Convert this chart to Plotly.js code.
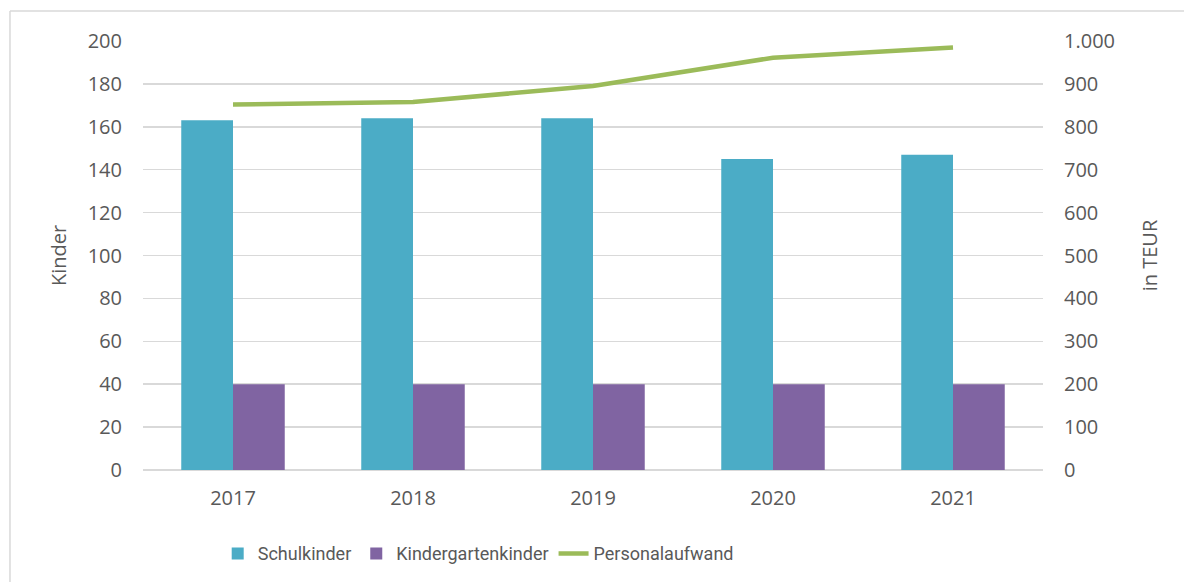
<!DOCTYPE html>
<html>
<head>
<meta charset="utf-8">
<script src="https://cdn.plot.ly/plotly-3.0.1.min.js"></script>
<style>
html,body{margin:0;padding:0;background:#fff;}
#chart{width:1184px;height:582px;}
</style>
</head>
<body>
<div id="chart"></div>
<script>
const years = ['2017', '2018', '2019', '2020', '2021'];
const schulkinder = [163, 164, 164, 145, 147];
const kindergartenkinder = [40, 40, 40, 40, 40];
const personalaufwand = [852, 858, 895, 961, 985];

const textColor = '#595959';
const gridColor = '#D9D9D9';
const tickFont = {family: 'Open Sans, sans-serif', size: 20, color: textColor};

const traces = [
  {type: 'bar', name: 'Schulkinder', x: years, y: schulkinder,
   marker: {color: '#4BACC6'}, hoverinfo: 'y'},
  {type: 'bar', name: 'Kindergartenkinder', x: years, y: kindergartenkinder,
   marker: {color: '#8064A2'}, hoverinfo: 'y'},
  {type: 'scatter', mode: 'lines', name: 'Personalaufwand', x: years, y: personalaufwand,
   yaxis: 'y2', line: {color: '#9BBB59', width: 4.5}}
];

const layout = {
  width: 1184, height: 582,
  margin: {l: 143, r: 141, t: 41, b: 112, autoexpand: false},
  paper_bgcolor: '#fff', plot_bgcolor: '#fff',
  separators: ',.',
  barmode: 'group',
  bargap: 0.425,
  bargroupgap: 0,
  font: {family: 'Open Sans, sans-serif', color: textColor},
  xaxis: {
    type: 'category', tickfont: tickFont, showgrid: false, automargin: false,
    showline: false, zeroline: false, ticks: '', ticklabelstandoff: 14
  },
  yaxis: {
    range: [0, 200], dtick: 20, tickfont: tickFont, automargin: false,
    gridcolor: gridColor, gridwidth: 1.5, zeroline: true, zerolinecolor: gridColor, zerolinewidth: 1.5,
    showline: false, ticks: '', ticklabelstandoff: 20,
    title: {text: 'Kinder', font: {family: 'Open Sans, sans-serif', size: 20, color: textColor}, standoff: 15}
  },
  yaxis2: {
    range: [0, 1000], dtick: 100, tickformat: ',d', overlaying: 'y', side: 'right',
    tickfont: tickFont, showgrid: false, zeroline: false, showline: false, ticks: '',
    ticklabelstandoff: 20, automargin: false,
    title: {text: 'in TEUR', font: {family: 'Open Sans, sans-serif', size: 20, color: textColor}, standoff: 28}
  },
  legend: {
    orientation: 'h', x: 0.083, xanchor: 'left', y: -0.152, yanchor: 'top',
    font: {family: 'Roboto, sans-serif', size: 18, color: textColor},
    itemwidth: 30, traceorder: 'normal'
  },
  shapes: [
    {type: 'line', xref: 'paper', yref: 'paper', x0: -0.1478, x1: -0.1478, y0: 1.07, y1: -0.3,
     line: {color: gridColor, width: 1.5}},
    {type: 'line', xref: 'paper', yref: 'paper', x0: -0.1478, x1: 1.2, y0: 1.07, y1: 1.07,
     line: {color: gridColor, width: 1.5}}
  ],
  showlegend: true
};

Plotly.newPlot('chart', traces, layout, {displayModeBar: false, staticPlot: true});
</script>
</body>
</html>
